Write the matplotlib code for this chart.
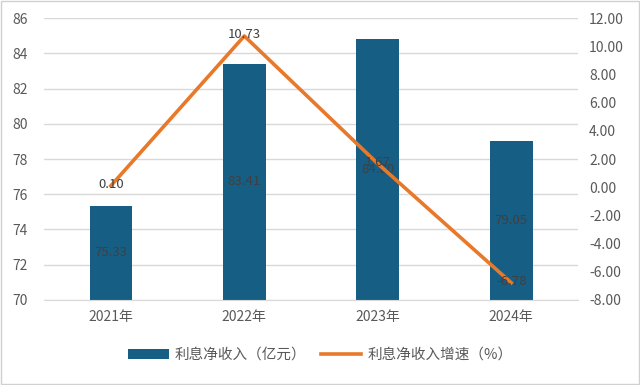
import matplotlib.pyplot as plt
import numpy as np
from matplotlib.patches import Rectangle

plt.rcParams['font.family'] = ['Noto Sans CJK SC', 'DejaVu Sans']

years = ['2021年', '2022年', '2023年', '2024年']
income = [75.33, 83.41, 84.80, 79.05]
growth = [0.10, 10.73, 1.67, -6.78]

bar_color = '#175e85'
line_color = '#e8782a'
tick_color = '#595959'

fig = plt.figure(figsize=(6.4, 3.85), dpi=100)
ax = fig.add_axes([0.069, 0.221, 0.834, 0.732])
ax2 = ax.twinx()

x = np.arange(len(years))
bars = ax.bar(x, [v - 70 for v in income], bottom=70, width=0.32, color=bar_color, zorder=2,
              label='利息净收入（亿元）')
ax.set_ylim(70, 86)
ax.set_yticks(np.arange(70, 87, 2))
ax.set_xlim(-0.5, 3.5)
ax.set_xticks(x)
ax.set_xticklabels(years)
ax.grid(axis='y', color='#d9d9d9', linewidth=1, zorder=0)
ax.set_axisbelow(True)

# bar labels sit in the middle of each bar (hard to read on dark blue, as in the original)
for xi, v in zip(x, income):
    ax.text(xi, (70 + v) / 2, f'{v:.2f}', ha='center', va='center', fontsize=9.5,
            color='#404040', zorder=3)

ln, = ax2.plot(x, growth, color=line_color, linewidth=2.6, zorder=4, label='利息净收入增速（%）')
ax2.set_ylim(-8, 12)
ax2.set_yticks(np.arange(-8, 13, 2))
ax2.set_yticklabels([f'{t:.2f}' for t in np.arange(-8, 13, 2)])
for xi, g in zip(x, growth):
    ax2.text(xi, g + 0.1, f'{g:.2f}', ha='center', va='center', fontsize=9.5, color='#404040', zorder=5)

for a in (ax, ax2):
    for s in a.spines.values():
        s.set_visible(False)
    a.tick_params(length=0, colors=tick_color, labelsize=10)
ax.spines['bottom'].set_visible(True)
ax.spines['bottom'].set_color('#d9d9d9')
ax.tick_params(axis='x', pad=7)
ax.tick_params(axis='y', pad=12)
ax2.tick_params(axis='y', pad=8)

fig.legend(handles=[bars, ln], loc='center', bbox_to_anchor=(0.5, 0.078), ncol=2, frameon=False,
           fontsize=10.5, handlelength=2.8, columnspacing=1.0, handletextpad=0.4, labelcolor=tick_color)

fig.patches.append(Rectangle((0.002, 0.003), 0.996, 0.994, transform=fig.transFigure, fill=False,
                             edgecolor='#d0d0d0', linewidth=1))

fig.savefig('out.png', dpi=100)
